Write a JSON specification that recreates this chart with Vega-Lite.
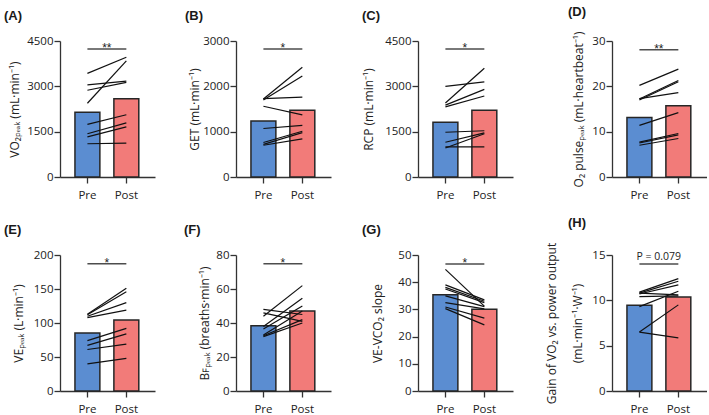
{
"$schema": "https://vega.github.io/schema/vega-lite/v6.json",
"padding": {"left": 4, "top": 6, "right": 0, "bottom": 0},
"background": "white",
"datasets": {
"bars": [
{"panel":"A","time":"Pre","mean":2140},{"panel":"A","time":"Post","mean":2590},
{"panel":"B","time":"Pre","mean":1238},{"panel":"B","time":"Post","mean":1475},
{"panel":"C","time":"Pre","mean":1810},{"panel":"C","time":"Post","mean":2206},
{"panel":"D","time":"Pre","mean":13.1},{"panel":"D","time":"Post","mean":15.7},
{"panel":"E","time":"Pre","mean":85.4},{"panel":"E","time":"Post","mean":104.4},
{"panel":"F","time":"Pre","mean":38.4},{"panel":"F","time":"Post","mean":47.0},
{"panel":"G","time":"Pre","mean":35.4},{"panel":"G","time":"Post","mean":30.1},
{"panel":"H","time":"Pre","mean":9.46},{"panel":"H","time":"Post","mean":10.37}
],
"lines": [
{"panel":"A","subject":1,"time":"Pre","value":3430},{"panel":"A","subject":1,"time":"Post","value":3960},
{"panel":"A","subject":2,"time":"Pre","value":2440},{"panel":"A","subject":2,"time":"Post","value":3840},
{"panel":"A","subject":3,"time":"Pre","value":3050},{"panel":"A","subject":3,"time":"Post","value":3170},
{"panel":"A","subject":4,"time":"Pre","value":2870},{"panel":"A","subject":4,"time":"Post","value":3130},
{"panel":"A","subject":5,"time":"Pre","value":1740},{"panel":"A","subject":5,"time":"Post","value":2060},
{"panel":"A","subject":6,"time":"Pre","value":1430},{"panel":"A","subject":6,"time":"Post","value":1790},
{"panel":"A","subject":7,"time":"Pre","value":1330},{"panel":"A","subject":7,"time":"Post","value":1660},
{"panel":"A","subject":8,"time":"Pre","value":1100},{"panel":"A","subject":8,"time":"Post","value":1120},
{"panel":"B","subject":1,"time":"Pre","value":1720},{"panel":"B","subject":1,"time":"Post","value":2420},
{"panel":"B","subject":2,"time":"Pre","value":1700},{"panel":"B","subject":2,"time":"Post","value":2230},
{"panel":"B","subject":3,"time":"Pre","value":1730},{"panel":"B","subject":3,"time":"Post","value":1760},
{"panel":"B","subject":4,"time":"Pre","value":1560},{"panel":"B","subject":4,"time":"Post","value":1370},
{"panel":"B","subject":5,"time":"Pre","value":1070},{"panel":"B","subject":5,"time":"Post","value":1140},
{"panel":"B","subject":6,"time":"Pre","value":760},{"panel":"B","subject":6,"time":"Post","value":1010},
{"panel":"B","subject":7,"time":"Pre","value":720},{"panel":"B","subject":7,"time":"Post","value":980},
{"panel":"B","subject":8,"time":"Pre","value":700},{"panel":"B","subject":8,"time":"Post","value":840},
{"panel":"C","subject":1,"time":"Pre","value":3000},{"panel":"C","subject":1,"time":"Post","value":3150},
{"panel":"C","subject":2,"time":"Pre","value":2450},{"panel":"C","subject":2,"time":"Post","value":3600},
{"panel":"C","subject":3,"time":"Pre","value":2380},{"panel":"C","subject":3,"time":"Post","value":2900},
{"panel":"C","subject":4,"time":"Pre","value":2320},{"panel":"C","subject":4,"time":"Post","value":2680},
{"panel":"C","subject":5,"time":"Pre","value":1480},{"panel":"C","subject":5,"time":"Post","value":1530},
{"panel":"C","subject":6,"time":"Pre","value":1150},{"panel":"C","subject":6,"time":"Post","value":1460},
{"panel":"C","subject":7,"time":"Pre","value":1000},{"panel":"C","subject":7,"time":"Post","value":1000},
{"panel":"C","subject":8,"time":"Pre","value":960},{"panel":"C","subject":8,"time":"Post","value":1430},
{"panel":"D","subject":1,"time":"Pre","value":20.2},{"panel":"D","subject":1,"time":"Post","value":23.8},
{"panel":"D","subject":2,"time":"Pre","value":17.2},{"panel":"D","subject":2,"time":"Post","value":21.3},
{"panel":"D","subject":3,"time":"Pre","value":17.0},{"panel":"D","subject":3,"time":"Post","value":21.0},
{"panel":"D","subject":4,"time":"Pre","value":17.3},{"panel":"D","subject":4,"time":"Post","value":18.6},
{"panel":"D","subject":5,"time":"Pre","value":11.4},{"panel":"D","subject":5,"time":"Post","value":14.2},
{"panel":"D","subject":6,"time":"Pre","value":7.7},{"panel":"D","subject":6,"time":"Post","value":9.6},
{"panel":"D","subject":7,"time":"Pre","value":7.5},{"panel":"D","subject":7,"time":"Post","value":9.3},
{"panel":"D","subject":8,"time":"Pre","value":7.0},{"panel":"D","subject":8,"time":"Post","value":8.5},
{"panel":"E","subject":1,"time":"Pre","value":113},{"panel":"E","subject":1,"time":"Post","value":151},
{"panel":"E","subject":2,"time":"Pre","value":112},{"panel":"E","subject":2,"time":"Post","value":146},
{"panel":"E","subject":3,"time":"Pre","value":110},{"panel":"E","subject":3,"time":"Post","value":130},
{"panel":"E","subject":4,"time":"Pre","value":108},{"panel":"E","subject":4,"time":"Post","value":119},
{"panel":"E","subject":5,"time":"Pre","value":74},{"panel":"E","subject":5,"time":"Post","value":92},
{"panel":"E","subject":6,"time":"Pre","value":67},{"panel":"E","subject":6,"time":"Post","value":84},
{"panel":"E","subject":7,"time":"Pre","value":61},{"panel":"E","subject":7,"time":"Post","value":69},
{"panel":"E","subject":8,"time":"Pre","value":40},{"panel":"E","subject":8,"time":"Post","value":48},
{"panel":"F","subject":1,"time":"Pre","value":48},{"panel":"F","subject":1,"time":"Post","value":45},
{"panel":"F","subject":2,"time":"Pre","value":46},{"panel":"F","subject":2,"time":"Post","value":41},
{"panel":"F","subject":3,"time":"Pre","value":44},{"panel":"F","subject":3,"time":"Post","value":62},
{"panel":"F","subject":4,"time":"Pre","value":38},{"panel":"F","subject":4,"time":"Post","value":54.5},
{"panel":"F","subject":5,"time":"Pre","value":36.5},{"panel":"F","subject":5,"time":"Post","value":50},
{"panel":"F","subject":6,"time":"Pre","value":33},{"panel":"F","subject":6,"time":"Post","value":47},
{"panel":"F","subject":7,"time":"Pre","value":32.5},{"panel":"F","subject":7,"time":"Post","value":42},
{"panel":"F","subject":8,"time":"Pre","value":32},{"panel":"F","subject":8,"time":"Post","value":40},
{"panel":"G","subject":1,"time":"Pre","value":44.7},{"panel":"G","subject":1,"time":"Post","value":31.2},
{"panel":"G","subject":2,"time":"Pre","value":39.0},{"panel":"G","subject":2,"time":"Post","value":33.5},
{"panel":"G","subject":3,"time":"Pre","value":38.1},{"panel":"G","subject":3,"time":"Post","value":33.0},
{"panel":"G","subject":4,"time":"Pre","value":37.5},{"panel":"G","subject":4,"time":"Post","value":32.5},
{"panel":"G","subject":5,"time":"Pre","value":35.0},{"panel":"G","subject":5,"time":"Post","value":31.0},
{"panel":"G","subject":6,"time":"Pre","value":32.5},{"panel":"G","subject":6,"time":"Post","value":30.2},
{"panel":"G","subject":7,"time":"Pre","value":30.9},{"panel":"G","subject":7,"time":"Post","value":26.8},
{"panel":"G","subject":8,"time":"Pre","value":30.3},{"panel":"G","subject":8,"time":"Post","value":24.3},
{"panel":"H","subject":1,"time":"Pre","value":10.9},{"panel":"H","subject":1,"time":"Post","value":12.4},
{"panel":"H","subject":2,"time":"Pre","value":10.8},{"panel":"H","subject":2,"time":"Post","value":12.1},
{"panel":"H","subject":3,"time":"Pre","value":10.7},{"panel":"H","subject":3,"time":"Post","value":11.7},
{"panel":"H","subject":4,"time":"Pre","value":10.4},{"panel":"H","subject":4,"time":"Post","value":10.5},
{"panel":"H","subject":5,"time":"Pre","value":9.3},{"panel":"H","subject":5,"time":"Post","value":11.0},
{"panel":"H","subject":6,"time":"Pre","value":10.8},{"panel":"H","subject":6,"time":"Post","value":10.6},
{"panel":"H","subject":7,"time":"Pre","value":6.5},{"panel":"H","subject":7,"time":"Post","value":9.5},
{"panel":"H","subject":8,"time":"Pre","value":6.5},{"panel":"H","subject":8,"time":"Post","value":5.85}
],
"sig": [
{"panel":"A","time":"Pre","y":4235},{"panel":"A","time":"Post","y":4235},
{"panel":"B","time":"Pre","y":2825},{"panel":"B","time":"Post","y":2825},
{"panel":"C","time":"Pre","y":4235},{"panel":"C","time":"Post","y":4235},
{"panel":"D","time":"Pre","y":28.05},{"panel":"D","time":"Post","y":28.05},
{"panel":"E","time":"Pre","y":187},{"panel":"E","time":"Post","y":187},
{"panel":"F","time":"Pre","y":74.8},{"panel":"F","time":"Post","y":74.8},
{"panel":"G","time":"Pre","y":46.7},{"panel":"G","time":"Post","y":46.7},
{"panel":"H","time":"Pre","y":14.0},{"panel":"H","time":"Post","y":14.0}
],
"sigtext": [
{"panel":"A","label":"**","y":4235},{"panel":"B","label":"*","y":2825},
{"panel":"C","label":"*","y":4235},{"panel":"D","label":"**","y":28.05},
{"panel":"E","label":"*","y":187},{"panel":"F","label":"*","y":74.8},
{"panel":"G","label":"*","y":46.7},{"panel":"H","label":"P = 0.079","y":14.0}
]
},
"columns": 4,
"bounds": "flush",
"spacing": {"row": 78, "column": 81},
"concat": [
{"width": 95, "height": 136, "title": {"text": "(A)", "dx": -56},
 "layer": [
  {"data": {"name": "bars"}, "transform": [{"filter": "datum.panel == 'A'"}], "mark": {"type": "bar", "stroke": "#262626", "strokeWidth": 1.5},
   "encoding": {"x": {"field": "time", "type": "nominal", "scale": {"domain": ["Pre","Post"], "range": [0,95], "paddingInner": 0.36, "paddingOuter": 0.4, "align": 0.48}},
    "y": {"field": "mean", "type": "quantitative", "scale": {"domain": [0,4500], "nice": false}, "axis": {"values": [0,1500,3000,4500], "tickCount": 12, "labelOverlap": false, "title": "VO₂ₚₑₐₖ (mL·min⁻¹)", "titlePadding": 8.5}},
    "color": {"field": "time", "type": "nominal", "scale": {"domain": ["Pre","Post"], "range": ["#5B8DD1","#F27B79"]}, "legend": null}}},
  {"data": {"name": "lines"}, "transform": [{"filter": "datum.panel == 'A'"}], "mark": {"type": "line", "color": "#111", "strokeWidth": 1.2},
   "encoding": {"x": {"field": "time", "type": "nominal"}, "y": {"field": "value", "type": "quantitative"}, "detail": {"field": "subject", "type": "nominal"}}},
  {"data": {"name": "sig"}, "transform": [{"filter": "datum.panel == 'A'"}], "mark": {"type": "line", "color": "#4d4d4d", "strokeWidth": 1.5},
   "encoding": {"x": {"field": "time", "type": "nominal"}, "y": {"field": "y", "type": "quantitative"}}},
  {"data": {"name": "sigtext"}, "transform": [{"filter": "datum.panel == 'A'"}], "mark": {"type": "text", "font": "Liberation Sans", "fontSize": 12, "baseline": "alphabetic", "dy": 3, "color": "#222"},
   "encoding": {"x": {"datum": "Pre", "type": "nominal", "bandPosition": 1.28}, "y": {"field": "y", "type": "quantitative"}, "text": {"field": "label"}}}
 ]},
{"width": 101, "height": 136, "title": {"text": "(B)", "dx": -51},
 "layer": [
  {"data": {"name": "bars"}, "transform": [{"filter": "datum.panel == 'B'"}], "mark": {"type": "bar", "stroke": "#262626", "strokeWidth": 1.5},
   "encoding": {"x": {"field": "time", "type": "nominal", "scale": {"domain": ["Pre","Post"], "range": [0,95], "paddingInner": 0.36, "paddingOuter": 0.4, "align": 0.48}},
    "y": {"field": "mean", "type": "quantitative", "scale": {"domain": [0,3000], "nice": false}, "axis": {"values": [0,1000,2000,3000], "tickCount": 12, "labelOverlap": false, "title": "GET (mL·min⁻¹)", "titlePadding": 4.5}},
    "color": {"field": "time", "type": "nominal", "scale": {"domain": ["Pre","Post"], "range": ["#5B8DD1","#F27B79"]}, "legend": null}}},
  {"data": {"name": "lines"}, "transform": [{"filter": "datum.panel == 'B'"}], "mark": {"type": "line", "color": "#111", "strokeWidth": 1.2},
   "encoding": {"x": {"field": "time", "type": "nominal"}, "y": {"field": "value", "type": "quantitative"}, "detail": {"field": "subject", "type": "nominal"}}},
  {"data": {"name": "sig"}, "transform": [{"filter": "datum.panel == 'B'"}], "mark": {"type": "line", "color": "#4d4d4d", "strokeWidth": 1.5},
   "encoding": {"x": {"field": "time", "type": "nominal"}, "y": {"field": "y", "type": "quantitative"}}},
  {"data": {"name": "sigtext"}, "transform": [{"filter": "datum.panel == 'B'"}], "mark": {"type": "text", "font": "Liberation Sans", "fontSize": 12, "baseline": "alphabetic", "dy": 3, "color": "#222"},
   "encoding": {"x": {"datum": "Pre", "type": "nominal", "bandPosition": 1.28}, "y": {"field": "y", "type": "quantitative"}, "text": {"field": "label"}}}
 ]},
{"width": 113, "height": 136, "title": {"text": "(C)", "dx": -56},
 "layer": [
  {"data": {"name": "bars"}, "transform": [{"filter": "datum.panel == 'C'"}], "mark": {"type": "bar", "stroke": "#262626", "strokeWidth": 1.5},
   "encoding": {"x": {"field": "time", "type": "nominal", "scale": {"domain": ["Pre","Post"], "range": [0,95], "paddingInner": 0.36, "paddingOuter": 0.4, "align": 0.48}},
    "y": {"field": "mean", "type": "quantitative", "scale": {"domain": [0,4500], "nice": false}, "axis": {"values": [0,1500,3000,4500], "tickCount": 12, "labelOverlap": false, "title": "RCP (mL·min⁻¹)", "titlePadding": 12.5}},
    "color": {"field": "time", "type": "nominal", "scale": {"domain": ["Pre","Post"], "range": ["#5B8DD1","#F27B79"]}, "legend": null}}},
  {"data": {"name": "lines"}, "transform": [{"filter": "datum.panel == 'C'"}], "mark": {"type": "line", "color": "#111", "strokeWidth": 1.2},
   "encoding": {"x": {"field": "time", "type": "nominal"}, "y": {"field": "value", "type": "quantitative"}, "detail": {"field": "subject", "type": "nominal"}}},
  {"data": {"name": "sig"}, "transform": [{"filter": "datum.panel == 'C'"}], "mark": {"type": "line", "color": "#4d4d4d", "strokeWidth": 1.5},
   "encoding": {"x": {"field": "time", "type": "nominal"}, "y": {"field": "y", "type": "quantitative"}}},
  {"data": {"name": "sigtext"}, "transform": [{"filter": "datum.panel == 'C'"}], "mark": {"type": "text", "font": "Liberation Sans", "fontSize": 12, "baseline": "alphabetic", "dy": 3, "color": "#222"},
   "encoding": {"x": {"datum": "Pre", "type": "nominal", "bandPosition": 1.28}, "y": {"field": "y", "type": "quantitative"}, "text": {"field": "label"}}}
 ]},
{"width": 95, "height": 136, "title": {"text": "(D)", "dx": -44},
 "layer": [
  {"data": {"name": "bars"}, "transform": [{"filter": "datum.panel == 'D'"}], "mark": {"type": "bar", "stroke": "#262626", "strokeWidth": 1.5},
   "encoding": {"x": {"field": "time", "type": "nominal", "scale": {"domain": ["Pre","Post"], "range": [0,95], "paddingInner": 0.36, "paddingOuter": 0.4, "align": 0.48}},
    "y": {"field": "mean", "type": "quantitative", "scale": {"domain": [0,30], "nice": false}, "axis": {"values": [0,10,20,30], "tickCount": 12, "labelOverlap": false, "title": "O₂ pulseₚₑₐₖ (mL·heartbeat⁻¹)", "titlePadding": 0, "minExtent": 27, "maxExtent": 27}},
    "color": {"field": "time", "type": "nominal", "scale": {"domain": ["Pre","Post"], "range": ["#5B8DD1","#F27B79"]}, "legend": null}}},
  {"data": {"name": "lines"}, "transform": [{"filter": "datum.panel == 'D'"}], "mark": {"type": "line", "color": "#111", "strokeWidth": 1.2},
   "encoding": {"x": {"field": "time", "type": "nominal"}, "y": {"field": "value", "type": "quantitative"}, "detail": {"field": "subject", "type": "nominal"}}},
  {"data": {"name": "sig"}, "transform": [{"filter": "datum.panel == 'D'"}], "mark": {"type": "line", "color": "#4d4d4d", "strokeWidth": 1.5},
   "encoding": {"x": {"field": "time", "type": "nominal"}, "y": {"field": "y", "type": "quantitative"}}},
  {"data": {"name": "sigtext"}, "transform": [{"filter": "datum.panel == 'D'"}], "mark": {"type": "text", "font": "Liberation Sans", "fontSize": 12, "baseline": "alphabetic", "dy": 3, "color": "#222"},
   "encoding": {"x": {"datum": "Pre", "type": "nominal", "bandPosition": 1.28}, "y": {"field": "y", "type": "quantitative"}, "text": {"field": "label"}}}
 ]},
{"width": 95, "height": 136, "title": {"text": "(E)", "dx": -56},
 "layer": [
  {"data": {"name": "bars"}, "transform": [{"filter": "datum.panel == 'E'"}], "mark": {"type": "bar", "stroke": "#262626", "strokeWidth": 1.5},
   "encoding": {"x": {"field": "time", "type": "nominal", "scale": {"domain": ["Pre","Post"], "range": [0,95], "paddingInner": 0.36, "paddingOuter": 0.4, "align": 0.48}},
    "y": {"field": "mean", "type": "quantitative", "scale": {"domain": [0,200], "nice": false}, "axis": {"values": [0,50,100,150,200], "tickCount": 12, "labelOverlap": false, "title": "VEₚₑₐₖ (L·min⁻¹)", "titlePadding": 4.5}},
    "color": {"field": "time", "type": "nominal", "scale": {"domain": ["Pre","Post"], "range": ["#5B8DD1","#F27B79"]}, "legend": null}}},
  {"data": {"name": "lines"}, "transform": [{"filter": "datum.panel == 'E'"}], "mark": {"type": "line", "color": "#111", "strokeWidth": 1.2},
   "encoding": {"x": {"field": "time", "type": "nominal"}, "y": {"field": "value", "type": "quantitative"}, "detail": {"field": "subject", "type": "nominal"}}},
  {"data": {"name": "sig"}, "transform": [{"filter": "datum.panel == 'E'"}], "mark": {"type": "line", "color": "#4d4d4d", "strokeWidth": 1.5},
   "encoding": {"x": {"field": "time", "type": "nominal"}, "y": {"field": "y", "type": "quantitative"}}},
  {"data": {"name": "sigtext"}, "transform": [{"filter": "datum.panel == 'E'"}], "mark": {"type": "text", "font": "Liberation Sans", "fontSize": 12, "baseline": "alphabetic", "dy": 3, "color": "#222"},
   "encoding": {"x": {"datum": "Pre", "type": "nominal", "bandPosition": 1.28}, "y": {"field": "y", "type": "quantitative"}, "text": {"field": "label"}}}
 ]},
{"width": 101, "height": 136, "title": {"text": "(F)", "dx": -52},
 "layer": [
  {"data": {"name": "bars"}, "transform": [{"filter": "datum.panel == 'F'"}], "mark": {"type": "bar", "stroke": "#262626", "strokeWidth": 1.5},
   "encoding": {"x": {"field": "time", "type": "nominal", "scale": {"domain": ["Pre","Post"], "range": [0,95], "paddingInner": 0.36, "paddingOuter": 0.4, "align": 0.48}},
    "y": {"field": "mean", "type": "quantitative", "scale": {"domain": [0,80], "nice": false}, "axis": {"values": [0,20,40,60,80], "tickCount": 12, "labelOverlap": false, "title": "Bꜰₚₑₐₖ (breaths·min⁻¹)", "titlePadding": 0, "minExtent": 25, "maxExtent": 25}},
    "color": {"field": "time", "type": "nominal", "scale": {"domain": ["Pre","Post"], "range": ["#5B8DD1","#F27B79"]}, "legend": null}}},
  {"data": {"name": "lines"}, "transform": [{"filter": "datum.panel == 'F'"}], "mark": {"type": "line", "color": "#111", "strokeWidth": 1.2},
   "encoding": {"x": {"field": "time", "type": "nominal"}, "y": {"field": "value", "type": "quantitative"}, "detail": {"field": "subject", "type": "nominal"}}},
  {"data": {"name": "sig"}, "transform": [{"filter": "datum.panel == 'F'"}], "mark": {"type": "line", "color": "#4d4d4d", "strokeWidth": 1.5},
   "encoding": {"x": {"field": "time", "type": "nominal"}, "y": {"field": "y", "type": "quantitative"}}},
  {"data": {"name": "sigtext"}, "transform": [{"filter": "datum.panel == 'F'"}], "mark": {"type": "text", "font": "Liberation Sans", "fontSize": 12, "baseline": "alphabetic", "dy": 3, "color": "#222"},
   "encoding": {"x": {"datum": "Pre", "type": "nominal", "bandPosition": 1.28}, "y": {"field": "y", "type": "quantitative"}, "text": {"field": "label"}}}
 ]},
{"width": 113, "height": 136, "title": {"text": "(G)", "dx": -56},
 "layer": [
  {"data": {"name": "bars"}, "transform": [{"filter": "datum.panel == 'G'"}], "mark": {"type": "bar", "stroke": "#262626", "strokeWidth": 1.5},
   "encoding": {"x": {"field": "time", "type": "nominal", "scale": {"domain": ["Pre","Post"], "range": [0,95], "paddingInner": 0.36, "paddingOuter": 0.4, "align": 0.48}},
    "y": {"field": "mean", "type": "quantitative", "scale": {"domain": [0,50], "nice": false}, "axis": {"values": [0,10,20,30,40,50], "tickCount": 12, "labelOverlap": false, "title": "VE-VCO₂ slope", "titlePadding": 3.5}},
    "color": {"field": "time", "type": "nominal", "scale": {"domain": ["Pre","Post"], "range": ["#5B8DD1","#F27B79"]}, "legend": null}}},
  {"data": {"name": "lines"}, "transform": [{"filter": "datum.panel == 'G'"}], "mark": {"type": "line", "color": "#111", "strokeWidth": 1.2},
   "encoding": {"x": {"field": "time", "type": "nominal"}, "y": {"field": "value", "type": "quantitative"}, "detail": {"field": "subject", "type": "nominal"}}},
  {"data": {"name": "sig"}, "transform": [{"filter": "datum.panel == 'G'"}], "mark": {"type": "line", "color": "#4d4d4d", "strokeWidth": 1.5},
   "encoding": {"x": {"field": "time", "type": "nominal"}, "y": {"field": "y", "type": "quantitative"}}},
  {"data": {"name": "sigtext"}, "transform": [{"filter": "datum.panel == 'G'"}], "mark": {"type": "text", "font": "Liberation Sans", "fontSize": 12, "baseline": "alphabetic", "dy": 3, "color": "#222"},
   "encoding": {"x": {"datum": "Pre", "type": "nominal", "bandPosition": 1.28}, "y": {"field": "y", "type": "quantitative"}, "text": {"field": "label"}}}
 ]},
{"width": 95, "height": 136, "title": {"text": "(H)", "dx": -44},
 "layer": [
  {"data": {"name": "bars"}, "transform": [{"filter": "datum.panel == 'H'"}], "mark": {"type": "bar", "stroke": "#262626", "strokeWidth": 1.5},
   "encoding": {"x": {"field": "time", "type": "nominal", "scale": {"domain": ["Pre","Post"], "range": [0,95], "paddingInner": 0.36, "paddingOuter": 0.4, "align": 0.48}},
    "y": {"field": "mean", "type": "quantitative", "scale": {"domain": [0,15], "nice": false}, "axis": {"values": [0,5,10,15], "tickCount": 12, "labelOverlap": false, "title": ["Gain of VO₂ vs. power output", "(mL·min⁻¹·W⁻¹)"], "titleLineHeight": 26, "titlePadding": -2.5}},
    "color": {"field": "time", "type": "nominal", "scale": {"domain": ["Pre","Post"], "range": ["#5B8DD1","#F27B79"]}, "legend": null}}},
  {"data": {"name": "lines"}, "transform": [{"filter": "datum.panel == 'H'"}], "mark": {"type": "line", "color": "#111", "strokeWidth": 1.2},
   "encoding": {"x": {"field": "time", "type": "nominal"}, "y": {"field": "value", "type": "quantitative"}, "detail": {"field": "subject", "type": "nominal"}}},
  {"data": {"name": "sig"}, "transform": [{"filter": "datum.panel == 'H'"}], "mark": {"type": "line", "color": "#4d4d4d", "strokeWidth": 1.5},
   "encoding": {"x": {"field": "time", "type": "nominal"}, "y": {"field": "y", "type": "quantitative"}}},
  {"data": {"name": "sigtext"}, "transform": [{"filter": "datum.panel == 'H'"}], "mark": {"type": "text", "font": "Open Sans", "fontSize": 10.5, "baseline": "alphabetic", "dy": -4, "color": "#222"},
   "encoding": {"x": {"datum": "Pre", "type": "nominal", "bandPosition": 1.28}, "y": {"field": "y", "type": "quantitative"}, "text": {"field": "label"}}}
 ]}
],
"config": {
 "view": {"stroke": null},
 "font": "Open Sans",
 "axis": {"grid": false, "domainColor": "#333", "domainWidth": 1.3, "tickColor": "#333", "tickWidth": 1.3, "labelFont": "Open Sans", "labelFontSize": 11.5, "labelColor": "#222", "titleFont": "Open Sans", "titleFontSize": 12, "titleFontWeight": "normal", "titleColor": "#222"},
 "axisX": {"tickSize": 6, "labelPadding": 6, "labelAngle": 0, "title": null},
 "axisY": {"tickSize": 6, "labelPadding": 1, "minExtent": 30, "maxExtent": 30, "format": "d", "labelOverlap": false},
 "title": {"anchor": "start", "frame": "group", "font": "Liberation Sans", "fontSize": 13, "fontWeight": "bold", "color": "#1a1a1a", "offset": 12, "baseline": "middle"}
}
}
